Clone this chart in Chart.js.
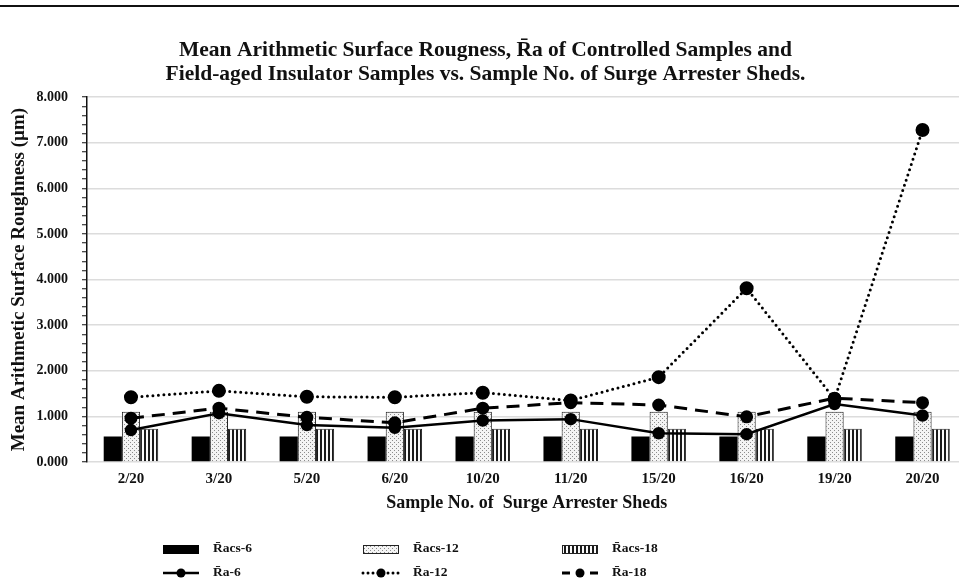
<!DOCTYPE html>
<html><head><meta charset="utf-8">
<script src="https://cdn.jsdelivr.net/npm/chart.js@4.4.1/dist/chart.umd.min.js"></script>
<style>
html,body{margin:0;padding:0;background:#fff;overflow:hidden;width:959px;height:588px;}
#wrap{position:relative;width:959px;height:588px;overflow:hidden;background:#fff;}
#rule{position:absolute;left:0;top:5px;width:959px;height:2px;background:#111;}
#c{position:absolute;left:0;top:0;}
</style></head><body>
<div id="wrap"><canvas id="c" width="975" height="588" style="width:975px;height:588px"></canvas><div id="rule"></div></div>
<script>
const categories = ['2/20','3/20','5/20','6/20','10/20','11/20','15/20','16/20','19/20','20/20'];
const racs6  = [0.56,0.56,0.56,0.56,0.56,0.56,0.56,0.56,0.56,0.56];
const racs12 = [1.10,1.10,1.10,1.10,1.10,1.10,1.10,1.10,1.10,1.10];
const racs18 = [0.73,0.73,0.73,0.73,0.73,0.73,0.73,0.73,0.73,0.73];
const ra6  = [0.70,1.07,0.81,0.75,0.91,0.94,0.63,0.61,1.27,1.02];
const ra12 = [1.42,1.56,1.43,1.42,1.52,1.35,1.86,3.81,1.38,7.28];
const ra18 = [0.96,1.18,0.98,0.86,1.18,1.30,1.25,0.99,1.40,1.30];
const seriesLabels = ['R\u0304acs-6','R\u0304acs-12','R\u0304acs-18','R\u0304a-6','R\u0304a-12','R\u0304a-18'];
const titleLines = ['Mean Arithmetic Surface Rougness, R\u0304a of Controlled Samples and','Field-aged Insulator Samples vs. Sample No. of Surge Arrester Sheds.'];
const xTitle = 'Sample No. of  Surge Arrester Sheds';
const yTitle = 'Mean Arithmetic Surface Roughness (\u00b5m)';
const yMin = 0, yMax = 8, yMinorStep = 0.2;

const SERIF = '"Liberation Serif", "Times New Roman", serif';
Chart.defaults.font.family = SERIF;
Chart.defaults.font.weight = 'bold';
Chart.defaults.color = '#111';

const canvas = document.getElementById('c');
const ctx0 = canvas.getContext('2d');
function makePattern(type){
  const c = document.createElement('canvas');
  c.width = 4; c.height = 4;
  const x = c.getContext('2d');
  if (type === 'dots') {
    x.fillStyle = '#f4f4f4'; x.fillRect(0,0,4,4);
    x.fillStyle = '#8c8c8c'; x.fillRect(0,0,1,1); x.fillRect(2,2,1,1);
  } else {
    x.fillStyle = '#fafafa'; x.fillRect(0,0,4,4);
    x.fillStyle = '#1a1a1a'; x.fillRect(0,0,2,4);
  }
  return ctx0.createPattern(c,'repeat');
}
const dotPat = makePattern('dots');
const stripePat = makePattern('stripes');
const isMajor = v => Math.abs(v - Math.round(v)) < 1e-6;

const gridLegend = {
  id: 'gridLegend',
  afterDraw(chart){
    const ctx = chart.ctx;
    const cols = [163, 363, 562], rows = [549, 573];
    ctx.save();
    chart.data.datasets.forEach((ds, i) => {
      const x = cols[i % 3], y = rows[Math.floor(i / 3)];
      if (ds.type === 'bar') {
        ctx.fillStyle = ds.backgroundColor;
        ctx.fillRect(x, y - 4, 36, 9);
        if (ds.borderWidth) { ctx.strokeStyle = '#222'; ctx.lineWidth = 1; ctx.strokeRect(x + 0.5, y - 3.5, 35, 8); }
      } else {
        ctx.strokeStyle = '#000';
        ctx.lineWidth = ds.borderWidth;
        ctx.lineCap = ds.borderCapStyle || 'butt';
        ctx.setLineDash(ds.legendDash || []);
        ctx.beginPath(); ctx.moveTo(x, y); ctx.lineTo(x + 36, y); ctx.stroke();
        ctx.setLineDash([]);
        ctx.fillStyle = '#000';
        ctx.beginPath(); ctx.arc(x + 18, y, 4.5, 0, Math.PI * 2); ctx.fill();
      }
      ctx.fillStyle = '#111';
      ctx.font = 'bold 13.5px ' + SERIF;
      ctx.textBaseline = 'middle';
      ctx.textAlign = 'left';
      ctx.fillText(ds.label, x + 50, y);
    });
    ctx.restore();
  }
};

new Chart(canvas, {
  type: 'bar',
  data: {
    labels: categories,
    datasets: [
      {type:'bar', label: seriesLabels[0], data: racs6, backgroundColor:'#000', borderWidth:0, order:2},
      {type:'bar', label: seriesLabels[1], data: racs12, backgroundColor: dotPat, borderColor:'#222', borderWidth:1, order:2},
      {type:'bar', label: seriesLabels[2], data: racs18, backgroundColor: stripePat, borderColor:'#222', borderWidth:1, order:2},
      {type:'line', label: seriesLabels[3], data: ra6, borderColor:'#000', borderWidth:2.5, pointRadius:5, pointBackgroundColor:'#000', pointBorderColor:'#000', order:0},
      {type:'line', label: seriesLabels[4], data: ra12, borderColor:'#000', borderWidth:3, borderDash:[0,5.5], borderCapStyle:'round', legendDash:[0,5], pointRadius:5.5, pointBackgroundColor:'#000', pointBorderColor:'#000', order:0},
      {type:'line', label: seriesLabels[5], data: ra18, borderColor:'#000', borderWidth:3, borderDash:[13,8], legendDash:[8,6], pointRadius:5, pointBackgroundColor:'#000', pointBorderColor:'#000', order:0}
    ]
  },
  options: {
    responsive: false,
    animation: false,
    devicePixelRatio: 1,
    categoryPercentage: 0.62,
    barPercentage: 1.0,
    layout: { padding: { left: 0, right: 4, top: 0, bottom: 74 } },
    plugins: {
      legend: { display: false },
      tooltip: { enabled: false },
      title: { display: true, text: titleLines, color:'#111', font: { size: 21.5, weight: 'bold', lineHeight: 1.12 }, padding: { top: 38, bottom: 11 } }
    },
    scales: {
      x: {
        afterFit(s){ s.height = 52; },
        grid: { display: false, drawTicks: false },
        border: { display: false },
        ticks: { font: { size: 15, weight: 'bold' }, color: '#111', padding: 8 },
        title: { display: true, text: xTitle, color:'#111', font: { size: 18, weight: 'bold' }, padding: { top: 0, bottom: 0 } }
      },
      y: {
        min: yMin, max: yMax,
        afterFit(s){ s.width = 87; },
        ticks: { stepSize: yMinorStep, autoSkip: false, color:'#111', font: { size: 14, weight: 'bold' }, padding: 14,
          callback: v => isMajor(v) ? Math.round(v).toFixed(3) : '' },
        grid: { color: c => (c.tick && isMajor(c.tick.value)) ? '#dcdcdc' : 'rgba(0,0,0,0)', lineWidth: 1.5, tickColor: '#111', tickLength: 5, tickWidth: 1 },
        border: { color: '#111', width: 1.5 },
        title: { display: true, text: yTitle, color:'#111', font: { size: 19, weight: 'bold' }, padding: { top: 8, bottom: 4 } }
      }
    }
  },
  plugins: [gridLegend]
});
</script>
</body></html>
